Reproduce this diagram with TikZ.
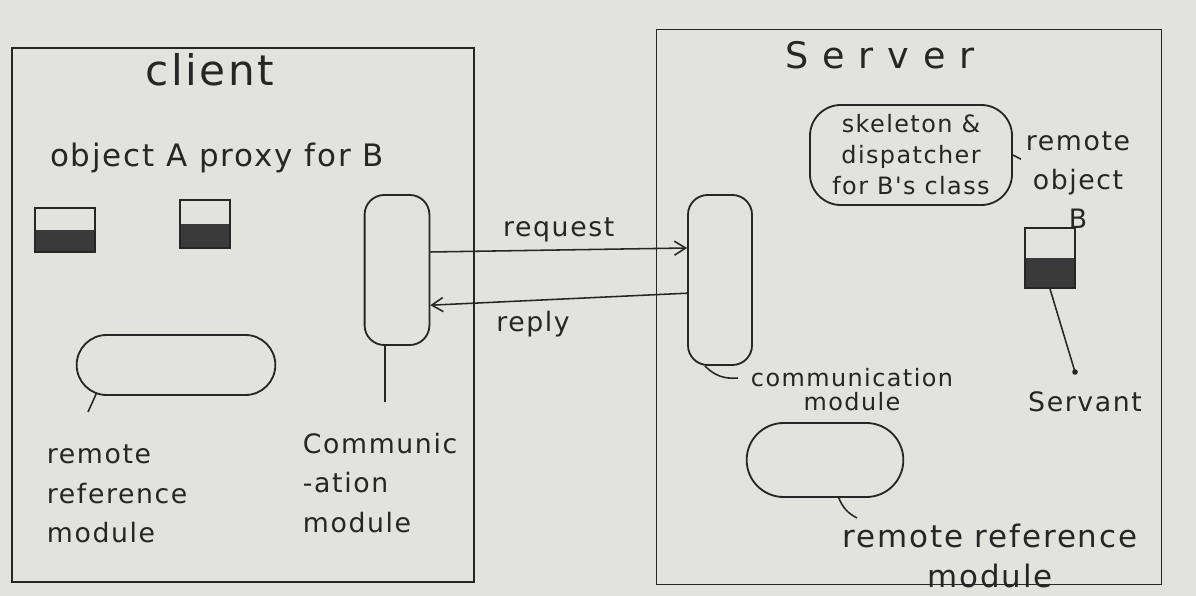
\documentclass[tikz,border=0pt]{standalone}
\usepackage{fontspec}
\usepackage{tikz}
\usetikzlibrary{positioning, arrows.meta, shapes.misc}
\newfontfamily\hand{DejaVu Sans}[LetterSpace=6]
\definecolor{paper}{RGB}{226,226,223}
\definecolor{ink}{RGB}{38,38,38}
\definecolor{darkfill}{RGB}{58,58,58}
\tikzset{
  sidebox/.style={rectangle, draw=ink, line width=1.3pt, inner sep=0pt},
  title/.style={font=\hand\fontsize{30}{34}\selectfont, text=ink},
  note/.style={font=\hand\fontsize{19}{28}\selectfont, text=ink, align=center},
  bignote/.style={font=\hand\fontsize{22}{29}\selectfont, text=ink, align=center},
  smallnote/.style={font=\hand\fontsize{17}{17}\selectfont, text=ink, align=center},
  commbox/.style={rectangle, rounded corners=14pt, draw=ink, line width=1.3pt,
    minimum width=1.6cm},
  refbox/.style={rounded rectangle, draw=ink, line width=1.3pt},
  skelbox/.style={rectangle, rounded corners=22pt, draw=ink, line width=1.3pt,
    minimum width=5.05cm, minimum height=2.5cm, align=center, inner sep=1pt,
    font=\hand\fontsize{17}{22}\selectfont, text=ink},
  objbox/.style={rectangle, draw=ink, line width=1.3pt,
    path picture={\fill[darkfill] (path picture bounding box.west)
      rectangle (path picture bounding box.south east);}},
  arrow/.style={-{Straight Barb[length=8pt, width=10pt]}, line width=1.1pt, draw=ink},
  pointer/.style={line width=1.1pt, draw=ink},
}
\begin{document}
\begin{tikzpicture}[x=0.025cm, y=-0.025cm]
  \fill[paper] (0,0) rectangle (1196,596);
  \useasboundingbox (0,0) rectangle (1196,596);

  % Client side
  \node[sidebox, minimum width=11.55cm, minimum height=13.35cm] (client) at (243,315) {};
  \node[title] (clienttitle) at (210,70) {client};
  \node[bignote] (objlbl) at (217,158) {object A proxy for B};
  \node[objbox, minimum width=1.5cm, minimum height=1.12cm] (objA) at (65,230) {};
  \node[objbox, minimum width=1.25cm, minimum height=1.2cm] (proxyB) at (205,224) {};
  \node[commbox, minimum width=1.62cm, minimum height=3.75cm] (ccomm) at (397,270) {};
  \node[refbox, minimum width=5.2cm, minimum height=1.5cm] (crrm) at (176,365) {};
  \node[note, align=left, anchor=north west] (crrmlbl) at (42,440) {remote\\reference\\module};
  \node[note, align=left, anchor=north west] (ccommlbl) at (298,428) {Communic\\-ation\\module};
  \coordinate (crrmend) at (88,412);
  \coordinate (ccommend) at (385,402);

  % Server side
  \node[sidebox, minimum width=12.62cm, minimum height=13.87cm] (server) at (909,307) {};
  \node[title, font=\hand\fontsize{26}{30}\selectfont] (servertitle) at (880,55) {S e r v e r};
  \node[skelbox] (skel) at (911,155) {skeleton \&\\dispatcher\\for B's class};
  \node[note] (robjlbl) at (1078,180) {remote\\object\\B};
  \node[objbox, minimum width=1.25cm, minimum height=1.5cm] (servant) at (1050,258) {};
  \node[commbox, minimum width=1.6cm, minimum height=4.25cm] (scomm) at (720,280) {};
  \node[smallnote] (scommlbl) at (852,390) {communication\\module};
  \node[note] (servlbl) at (1085,402) {Servant};
  \node[refbox, minimum width=4.15cm, minimum height=1.85cm] (srrm) at (825,460) {};
  \node[bignote] (srrmlbl) at (990,556) {remote reference\\module};
  \coordinate (scommend) at (738,378);
  \coordinate (servend) at (1075,372);
  \coordinate (srrmend) at (857,518);

  % Messages
  \draw[arrow] ([yshift=0.45cm]ccomm.east) -- ([yshift=0.8cm]scomm.west)
    node[note, midway, above=2pt] (reqlbl) {request};
  \draw[arrow] ([yshift=-0.33cm]scomm.west) -- ([yshift=-0.88cm]ccomm.east)
    node[note, pos=0.6, below=4pt] (replbl) {reply};

  % Pointers
  \draw[pointer] (crrm.200) -- (crrmend);
  \draw[pointer] ([xshift=-0.3cm]ccomm.south) -- (ccommend);
  \draw[pointer] (scomm.260) to[bend right=25] (scommend);
  \draw[pointer] (servant.south) -- (servend);
  \fill[ink] (servend) circle (2pt);
  \draw[pointer] (srrm.290) to[bend right=20] (srrmend);
  \draw[pointer] (skel.east) -- (robjlbl.160);
\end{tikzpicture}
\end{document}
